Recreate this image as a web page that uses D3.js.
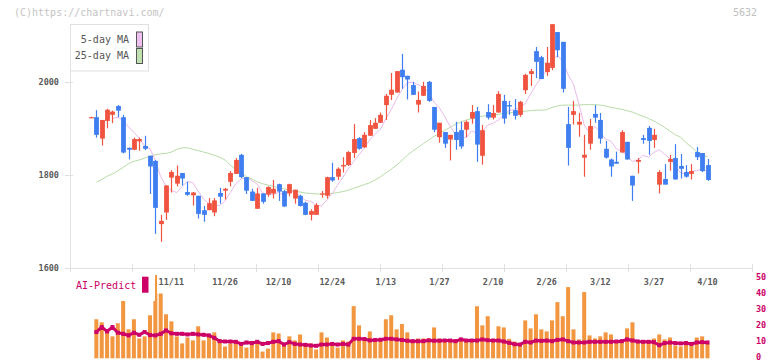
<!DOCTYPE html>
<html><head><meta charset="utf-8">
<script src="https://cdn.jsdelivr.net/npm/d3@7"></script>
<style>body{margin:0;background:#fff} svg{display:block}</style>
</head><body>
<svg id="c" width="772" height="361"></svg>
<script>
// ---- data ----
const openP = [1924,1925,1879,1917,1930,1949,1925,1859,1855,1873,1863,1842,1831,1695,1720,1795,1782,1805,1764,1757,1756,1725,1725,1720,1762,1767,1786,1803,1844,1796,1765,1728,1761,1759,1761,1781,1766,1761,1750,1756,1741,1715,1715,1760,1756,1796,1797,1819,1822,1848,1880,1860,1885,1900,1913,1951,1973,1978,2027,2014,1994,1952,1971,2001,1947,1882,1893,1877,1893,1897,1898,1922,1938,1842,1936,1924,1935,1960,1951,1940,1930,1983,2018,2067,2054,2022,2031,2108,2087,1910,1930,1909,1838,1868,1932,1919,1857,1834,1829,1849,1872,1799,1829,1880,1902,1876,1780,1792,1829,1837,1820,1807,1803,1850,1848,1822];
const highP = [1926,1940,1919,1943,1939,1951,1930,1860,1881,1881,1885,1842,1833,1715,1779,1811,1821,1805,1786,1764,1756,1734,1751,1751,1773,1773,1809,1837,1846,1796,1771,1773,1761,1776,1790,1782,1768,1782,1769,1758,1743,1727,1740,1766,1797,1827,1817,1839,1852,1910,1882,1893,1919,1923,1935,1975,2020,2024,2061,2014,2001,1980,2001,2003,1947,1913,1893,1887,1915,1915,1918,1951,1947,1908,1953,1951,1981,1973,1960,1964,1960,2018,2029,2076,2057,2076,2125,2108,2087,1947,1960,1934,1887,1921,1951,1934,1874,1836,1851,1897,1872,1799,1837,1887,1906,1900,1811,1824,1844,1867,1846,1822,1824,1861,1848,1835];
const lowP = [1924,1881,1864,1901,1912,1925,1847,1834,1854,1853,1854,1760,1674,1657,1704,1763,1776,1778,1756,1735,1707,1700,1725,1712,1739,1748,1776,1803,1794,1760,1745,1728,1739,1754,1750,1745,1732,1755,1739,1733,1714,1703,1715,1752,1750,1786,1790,1806,1820,1837,1855,1859,1885,1900,1913,1919,1962,1978,1986,1963,1973,1935,1971,1958,1893,1870,1859,1832,1855,1857,1882,1911,1829,1823,1920,1920,1935,1911,1930,1920,1926,1975,1992,2009,2007,2014,2026,2054,1978,1821,1909,1883,1797,1855,1913,1868,1836,1797,1825,1849,1834,1745,1804,1868,1844,1859,1761,1780,1810,1791,1793,1795,1791,1833,1807,1788];
const closeP = [1925,1887,1919,1941,1937,1939,1849,1855,1878,1878,1857,1819,1730,1702,1778,1807,1799,1793,1758,1763,1717,1715,1740,1746,1754,1771,1805,1833,1796,1767,1745,1761,1743,1775,1771,1765,1733,1781,1769,1734,1715,1723,1736,1761,1796,1789,1814,1822,1850,1878,1857,1887,1908,1913,1930,1971,1984,2024,2011,2006,1973,1962,1992,1960,1898,1913,1868,1887,1876,1862,1915,1936,1866,1897,1924,1934,1975,1922,1948,1928,1958,2016,2024,2044,2007,2042,2125,2069,1986,1859,1938,1915,1844,1906,1924,1879,1838,1819,1825,1893,1834,1778,1833,1876,1874,1887,1807,1780,1835,1791,1814,1797,1809,1839,1809,1790];
const ma5 = [null,null,null,null,1922,1925,1917,1904,1892,1880,1863,1857,1832,1797,1777,1767,1763,1776,1787,1784,1766,1749,1739,1736,1735,1745,1763,1782,1792,1795,1789,1781,1762,1758,1759,1763,1757,1765,1764,1756,1746,1744,1736,1734,1747,1761,1779,1796,1814,1830,1844,1859,1876,1889,1899,1922,1941,1964,1984,1999,2000,1995,1989,1978,1957,1945,1926,1905,1888,1881,1881,1895,1891,1895,1908,1912,1919,1930,1940,1941,1946,1954,1975,1994,2010,2026,2048,2057,2046,2016,1996,1954,1908,1892,1905,1893,1878,1873,1857,1851,1842,1830,1833,1843,1839,1849,1855,1845,1836,1820,1805,1803,1809,1810,1814,1809];
const ma25 = [null,1785,1791,1798,1803,1810,1817,1825,1830,1833,1837,1841,1844,1846,1847,1850,1856,1859,1859,1856,1853,1850,1847,1843,1839,1833,1822,1813,1806,1797,1792,1786,1782,1779,1776,1773,1771,1768,1766,1764,1762,1761,1760,1760,1760,1761,1763,1765,1768,1772,1776,1780,1784,1790,1797,1805,1813,1822,1832,1843,1852,1860,1868,1876,1884,1890,1897,1903,1910,1915,1919,1922,1925,1927,1929,1930,1931,1933,1934,1936,1937,1938,1939,1940,1940,1941,1946,1949,1951,1951,1951,1951,1952,1952,1952,1951,1949,1946,1944,1942,1939,1936,1931,1927,1922,1917,1910,1903,1895,1887,1882,1870,1861,1850,1843,1840];
const volume = [null,24.4,22.5,18.3,13.7,21.9,40,18.1,24.4,12.4,13.7,26.9,52,42,27.5,23.1,13.7,9.3,13.0,11.2,20.0,11.2,13.7,16.2,11.8,7.4,9.3,11.2,8.0,6.7,10.5,9.3,4.2,6.1,16.2,15.5,8.6,13.7,11.2,14.9,9.3,9.3,5.5,16.2,13.0,8.6,6.7,11.2,10.5,32.6,20.6,12.4,16.8,11.2,11.2,24.4,26.9,18.1,21.4,16.2,11.2,12.4,12.4,12.4,19.3,12.4,11.2,11.2,10.5,12.4,11.1,11.1,32.5,20.6,26.3,12.2,20.0,19.3,12.2,10.5,8.0,23.7,18.7,27.5,18.1,16.8,23.7,35.1,26.3,44.5,18.1,11.8,41.4,14.3,12.4,13.7,16.2,14.9,11.2,11.2,18.7,22.5,10.5,10.5,10.5,12.4,14.9,11.8,13.0,8.0,7.4,10.5,9.9,13.0,13.7,9.0];
const aiPredict = [null,16.4,19.5,16.8,19.5,16.0,15.3,14.3,16.0,14.7,16.4,14.5,14.3,15.3,17.4,15.6,15.3,15.3,14.9,15.3,14.9,14.7,14.3,12.8,10.7,10.5,10.5,10.3,9.0,9.9,9.5,10.3,9.0,9.5,10.3,10.7,8.6,10.1,9.0,8.6,8.4,8.0,7.8,8.6,8.6,9.0,8.6,9.0,8.6,12.2,12.2,12.0,11.2,11.4,11.6,12.2,12.2,11.8,11.4,11.0,10.7,10.7,10.7,11.2,11.0,11.0,11.1,11.1,10.7,11.8,11.1,11.1,11.1,11.8,11.3,11.1,11.1,10.5,9.7,8.8,8.6,10.3,9.9,11.1,10.9,11.1,10.7,11.5,11.8,10.7,9.9,9.9,9.9,10.3,10.3,10.3,10.3,10.3,10.5,10.7,11.8,11.1,10.5,10.3,10.3,10.1,8.2,9.5,9.9,9.5,9.3,9.5,9.0,9.9,10.1,9.9];
const dateLabels = ["11/11","11/26","12/10","12/24","1/13","1/27","2/10","2/26","3/12","3/27","4/10"];
const dateLabelIdx = [15,25,35,45,55,65,75,85,95,105,115];
const priceTicks = [1600,1800,2000];
const volTicks = [0,10,20,30,40,50];

// ---- drawing ----
const FONT = "'DejaVu Sans Mono', monospace";
const svg = d3.select('#c');
const n = closeP.length;
const x = d3.scaleLinear().domain([0, n - 1]).range([91, 707.5]);
const y = d3.scaleLinear().domain([1600, 2000]).range([268.3, 82.3]);
const yv = d3.scaleLinear().domain([0, 50]).range([358.3, 278.3]);
const frame = d3.scaleLinear().domain([0, 11]).range([70, 752]);
const RED = '#f0533f', BLUE = '#3f7ef0';

// volume bars
svg.append('g').selectAll('rect').data(volume.map((v,i)=>({v,i})).filter(d=>d.v!=null))
  .join('rect')
  .attr('x', d => x(d.i) - 2).attr('width', 4)
  .attr('y', d => yv(d.v)).attr('height', d => yv(0) - yv(d.v))
  .attr('fill', '#f2963f');

// AI predict line
const aiData = aiPredict.map((v,i)=>({v,i})).filter(d=>d.v!=null);
svg.append('path').datum(aiData)
  .attr('d', d3.line().x(d=>x(d.i)).y(d=>yv(d.v)))
  .attr('fill','none').attr('stroke','#cc0066').attr('stroke-width',3);
svg.append('g').selectAll('rect').data(aiData).join('rect')
  .attr('x', d=>x(d.i)-2).attr('y', d=>yv(d.v)-2).attr('width', 4).attr('height', 4).attr('fill','#cc0066');

// AI-Predict legend (white backing over bars)
svg.append('rect').attr('x', 71).attr('y', 274).attr('width', 84).attr('height', 27).attr('fill','#fff');
svg.append('text').attr('x', 76).attr('y', 286).attr('dominant-baseline','middle')
  .attr('font-family', FONT).attr('font-size', '10px').attr('fill', '#cc0066').text('AI-Predict');
svg.append('rect').attr('x', 142).attr('y', 276.7).attr('width', 6.5).attr('height', 16).attr('fill', '#cc0066');

// date labels with white backing
const lg = svg.append('g');
dateLabels.forEach((t, k) => {
  const cx = x(dateLabelIdx[k]);
  const w = t.length * 5.1 + 3;
  lg.append('rect').attr('x', cx - w/2).attr('y', 275).attr('width', w).attr('height', 18.5).attr('fill', '#fff');
  lg.append('text').attr('x', cx).attr('y', 282.5).attr('text-anchor','middle').attr('dominant-baseline','middle')
    .attr('font-family', FONT).attr('font-size','8.5px').attr('font-weight','bold').attr('fill','#5a5a5a').text(t);
});

// volume axis labels (right)
svg.append('g').selectAll('text').data(volTicks).join('text')
  .attr('x', 756).attr('y', d => yv(d) - 0.5).attr('dominant-baseline','middle')
  .attr('font-family', FONT).attr('font-size','8.5px').attr('font-weight','bold').attr('fill','#cc0066')
  .text(d => d);

// axes
const AX = '#e0e0e0';
svg.append('line').attr('x1', 70.5).attr('x2', 70.5).attr('y1', 24).attr('y2', 272).attr('stroke', AX);
svg.append('line').attr('x1', 65).attr('x2', 752.5).attr('y1', y(1600)+0.2).attr('y2', y(1600)+0.2).attr('stroke', AX);
svg.append('g').selectAll('line').data(d3.range(0, 12)).join('line')
  .attr('x1', d => Math.round(frame(d)) + 0.5).attr('x2', d => Math.round(frame(d)) + 0.5)
  .attr('y1', 264).attr('y2', 272).attr('stroke', AX);
svg.append('g').selectAll('line').data(priceTicks).join('line')
  .attr('x1', 65).attr('x2', 73).attr('y1', d => Math.round(y(d)) + 0.5).attr('y2', d => Math.round(y(d)) + 0.5)
  .attr('stroke', AX);
svg.append('g').selectAll('text').data(priceTicks).join('text')
  .attr('x', 59).attr('y', d => y(d)).attr('text-anchor','end').attr('dominant-baseline','middle')
  .attr('font-family', FONT).attr('font-size','8.5px').attr('font-weight','bold').attr('fill','#5a5a5a')
  .text(d => d);

// moving averages
const lineGen = d3.line().defined(d => d.v != null).x(d => x(d.i)).y(d => y(d.v));
svg.append('path').datum(ma25.map((v,i)=>({v,i})))
  .attr('d', lineGen).attr('fill','none').attr('stroke','#b8dba8').attr('stroke-width',1);
svg.append('path').datum(ma5.map((v,i)=>({v,i})))
  .attr('d', lineGen).attr('fill','none').attr('stroke','#ebbaec').attr('stroke-width',1);

// candles
const cd = closeP.map((c,i)=>({i, o:openP[i], h:highP[i], l:lowP[i], c}));
const cg = svg.append('g').selectAll('g').data(cd).join('g');
cg.append('line')
  .attr('x1', d => Math.round(x(d.i)) + 0.5).attr('x2', d => Math.round(x(d.i)) + 0.5)
  .attr('y1', d => y(d.h)).attr('y2', d => y(d.l))
  .attr('stroke', d => d.c >= d.o ? RED : BLUE).attr('stroke-width', 1.2);
cg.append('rect')
  .attr('x', d => Math.round(x(d.i)) + 0.5 - 2.4).attr('width', 4.8)
  .attr('y', d => y(Math.max(d.o, d.c)))
  .attr('height', d => Math.max(1.2, Math.abs(y(d.o) - y(d.c))))
  .attr('fill', d => d.c >= d.o ? RED : BLUE);

// MA legend box
svg.append('rect').attr('x', 70.5).attr('y', 24.5).attr('width', 78).attr('height', 46.5)
  .attr('fill','#fff').attr('stroke', AX);
const legendItems = [{t:'5-day MA', c:'#f0c0f0', y:39.5}, {t:'25-day MA', c:'#c0e0b0', y:56}];
legendItems.forEach(it => {
  svg.append('text').attr('x', 129).attr('y', it.y).attr('text-anchor','end').attr('dominant-baseline','middle')
    .attr('font-family', FONT).attr('font-size','10px').attr('fill','#555').text(it.t);
  svg.append('rect').attr('x', 136.5).attr('y', it.y - 7.5).attr('width', 6).attr('height', 15)
    .attr('fill', it.c).attr('stroke', '#555');
});

// header texts
svg.append('text').attr('x', 14).attr('y', 12.5).attr('dominant-baseline','middle')
  .attr('font-family', FONT).attr('font-size','10px').attr('fill','#c4c4c4').text('(C)https://chartnavi.com/');
svg.append('text').attr('x', 757).attr('y', 12.5).attr('text-anchor','end').attr('dominant-baseline','middle')
  .attr('font-family', FONT).attr('font-size','10px').attr('fill','#c0c0c0').text('5632');
</script>
</body></html>
